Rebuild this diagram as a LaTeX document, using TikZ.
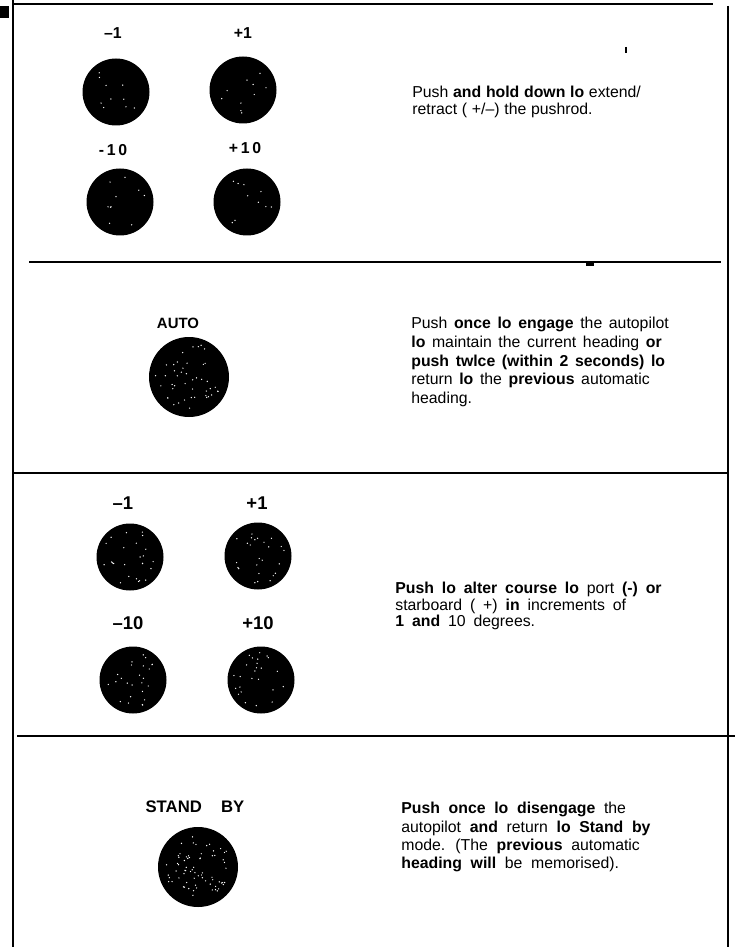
\documentclass[tikz,border=0pt]{standalone}
\usepackage{fontspec}
\setmainfont{Liberation Sans}

% white specks on a key: node, count, spread
\newcommand{\speckle}[3]{%
  \foreach \k in {1,...,#2} {
    \pgfmathsetmacro{\ang}{360*rnd}
    \pgfmathsetmacro{\dst}{#3*sqrt(rnd)}
    \fill[white] ([shift={(\ang:\dst)}]#1.center) circle (0.7);
  }}

\begin{document}
\begin{tikzpicture}[x=0.2mm, y=-0.2mm, every node/.style={inner sep=0pt},
	rule/.style={line width=1.6pt},
	btn/.style={circle, fill=black, minimum size=13.4mm},
	bigbtn/.style={circle, fill=black, minimum size=16mm},
	keylabel/.style={font=\bfseries\fontsize{#1}{12}\selectfont},
	desc/.style 2 args={anchor=north west, align=left,
		font={\fontsize{9}{#1}\selectfont\spaceskip=#2em plus 0.1em\relax}}]
	\pgfmathsetseed{7}
	\useasboundingbox (0,0) rectangle (742,947);
	% frame and dividers
	\draw[rule] (13,0) -- (13,947);
	\draw[rule] (13,4) -- (713,4);
	\draw[rule] (728,6) -- (728,947);
	\draw[rule] (29,262) -- (721,262);
	\draw[rule] (13,473) -- (728,473);
	\draw[rule] (17,736) -- (735,736);
	\fill (0,6) rectangle (9,18);
	\fill (586,262) rectangle (594,266);
	\draw[line width=0.6pt] (626,47) -- (626,53);
	% pushrod keys
	\foreach \n/\t/\x/\y/\lx/\ly in {m1/--1/116/92/113/33, p1/+1/243/90/243/33, m10/-\,1\,0/120/202/113/150, p10/+\,1\,0/247/202/245/148} {
		\node[btn] (a\n) at (\x,\y) {};
		\node[keylabel=9] (la\n) at (\lx,\ly) {\t};
		\speckle{a\n}{10}{26}
	}
	\node[desc={9.6}{0.3}] (da) at (412,86)
		{Push \textbf{and hold down lo} extend/\\retract ( +/--) the pushrod.};
	% auto key
	\node[keylabel=8.5] (lauto) at (178,323) {AUTO};
	\node[bigbtn] (auto) at (189,377) {};
	\speckle{auto}{45}{34}
	\node[desc={10.6}{0.42}] (dauto) at (411,317)
		{Push \textbf{once lo engage} the autopilot\\
		 \textbf{lo} maintain the current heading \textbf{or}\\
		 \textbf{push twlce (within 2 seconds) lo}\\
		 return \textbf{lo} the \textbf{previous} automatic\\
		 heading.};
	% course keys
	\foreach \n/\t/\x/\y/\lx/\ly in {m1/--1/130/557/123/503, p1/+1/258/556/257/503, m10/--10/133/680/128/623, p10/+10/261/680/258/623} {
		\node[btn] (c\n) at (\x,\y) {};
		\node[keylabel=10.5] (lc\n) at (\lx,\ly) {\t};
		\speckle{c\n}{25}{28}
	}
	\node[desc={9.4}{0.5}] (dc) at (395,582)
		{\textbf{Push lo alter course lo} port \textbf{(-) or}\\
		 starboard ( +) \textbf{in} increments of\\
		 \textbf{1 and} 10 degrees.};
	% stand by key
	\node[keylabel=9.5] (lstby) at (195,807) {STAND\hspace{11pt}BY};
	\node[bigbtn] (stby) at (198,867) {};
	\speckle{stby}{70}{33}
	\node[desc={10.4}{0.55}] (dstby) at (401,802)
		{\textbf{Push once lo disengage} the\\
		 autopilot \textbf{and} return \textbf{lo Stand by}\\
		 mode. (The \textbf{previous} automatic\\
		 \textbf{heading will} be memorised).};
\end{tikzpicture}
\end{document}
